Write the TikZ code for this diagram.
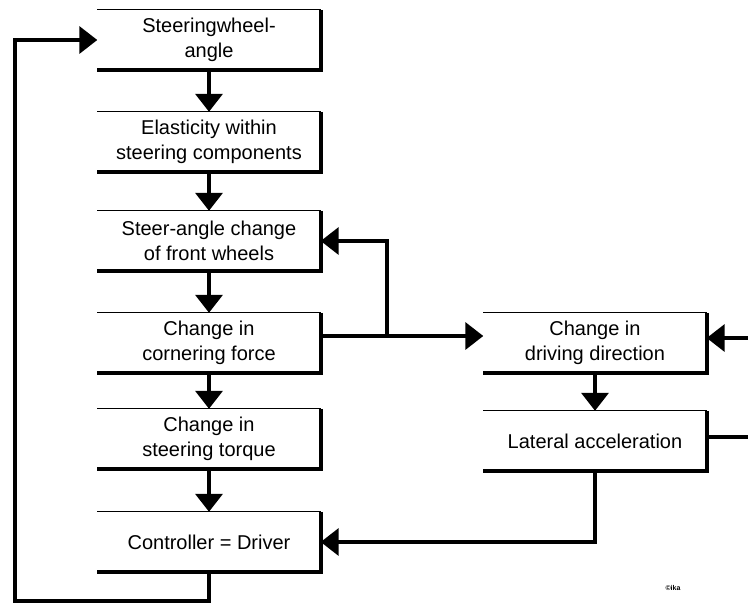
\documentclass[tikz,border=0pt]{standalone}
\usepackage{fontspec}
\setmainfont{Liberation Sans}
\usetikzlibrary{arrows.meta}

\tikzset{
  blk/.style={minimum width=223pt,minimum height=60pt,inner sep=0pt,align=center,
    font=\fontsize{20}{25}\selectfont},
  conn/.style={line width=3.6pt},
  arr/.style={conn,-{Triangle[length=18pt,width=27pt]}},
}

\begin{document}
\begin{tikzpicture}[x=1pt,y=-1pt]
  \useasboundingbox (0,0) rectangle (748,606);
  % blocks, left column
  \node[blk] (sw) at (209,40) {Steeringwheel-\\angle};
  \node[blk] (el) at (209,142) {Elasticity within\\steering components};
  \node[blk] (sa) at (209,241) {Steer-angle change\\of front wheels};
  \node[blk] (cf) at (209,343) {Change in\\cornering force};
  \node[blk] (st) at (209,439) {Change in\\steering torque};
  \node[blk] (cd) at (209,542) {Controller = Driver};
  % blocks, right column
  \node[blk] (dd) at (595,343) {Change in\\driving direction};
  \node[blk] (la) at (595,441) {Lateral acceleration};
  \node[font=\scriptsize\bfseries] (cp) at (673,588) {\textcopyright ika};
  % thin top edge, heavy right and bottom edge
  \foreach \b in {sw,el,sa,cf,st,cd,dd,la} {
    \draw[line width=1.2pt] (\b.north west) -- (\b.north east);
    \draw[conn] (\b.north east) -- (\b.south east) -- (\b.south west);
  }
  % chain
  \draw[arr] (sw.south) -- (el.north);
  \draw[arr] (el.south) -- (sa.north);
  \draw[arr] (sa.south) -- (cf.north);
  \draw[arr] (cf.south) -- (st.north);
  \draw[arr] (st.south) -- (cd.north);
  \draw[arr] (dd.south) -- (la.north);
  % feedback paths
  \coordinate (lb) at (15,601);
  \draw[arr] (cd.south) |- (lb) |- (sw.west);
  \coordinate (br) at (387,336);
  \draw[arr] (cf.east |- br) -- (dd.west |- br);
  \draw[arr] (br) |- (sa.east);
  \draw[arr] (la.south) |- (cd.east);
  \coordinate (rt) at (748,338);
  \coordinate (rb) at (748,437);
  \draw[arr] (rt) -- (dd.east |- rt);
  \draw[conn] (la.east |- rb) -- (rb);
\end{tikzpicture}
\end{document}
